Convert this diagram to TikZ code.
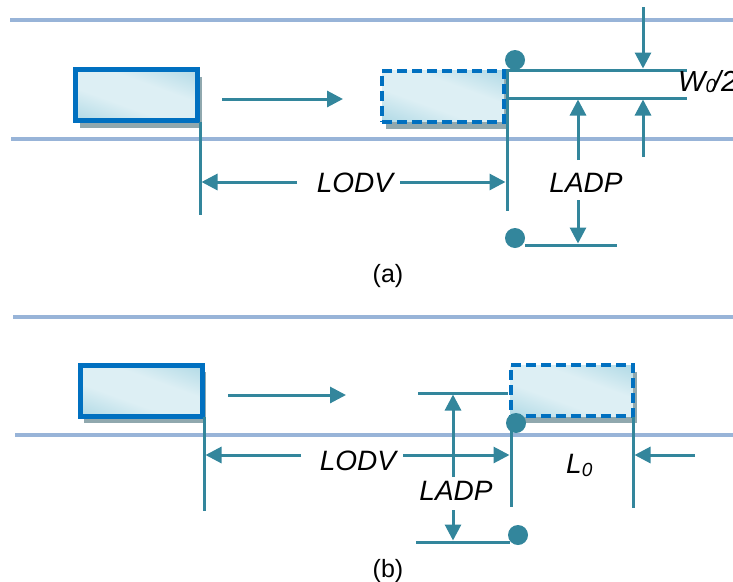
\documentclass[tikz,border=0pt]{standalone}
\usepackage{fontspec}
\setmainfont{Liberation Sans}
\usetikzlibrary{arrows.meta,shadows}
\definecolor{dimteal}{HTML}{33869C}
\definecolor{roadblue}{HTML}{98B4D8}
\definecolor{carblue}{HTML}{0070C0}
\definecolor{cardark}{HTML}{8CC8DA}
\definecolor{carlight}{HTML}{DDEFF4}
\definecolor{shadowgray}{HTML}{90A8AE}
\pgfdeclarehorizontalshading{carshade}{100bp}{color(0bp)=(cardark); color(40bp)=(carlight); color(60bp)=(carlight); color(100bp)=(cardark)}
\newcommand{\lowsub}[2]{\raisebox{#1}{\fontsize{19}{19}\selectfont\itshape #2}}
\tikzset{
  roadline/.style={roadblue, line width=3.5pt},
  dimline/.style={dimteal, line width=3pt},
  dimarrow/.style={dimline, -{Triangle[length=16pt,width=16pt]}},
  car/.style={draw=carblue, line width=5pt, shading=carshade, shading angle=70,
    minimum width=122pt, minimum height=51pt, inner sep=0pt,
    general shadow={shadow xshift=4pt, shadow yshift=-7pt, fill=shadowgray}},
  ghostcar/.style={car, line width=4pt, dash pattern=on 10pt off 5pt},
  dot/.style={circle, fill=dimteal, minimum size=20pt, inner sep=0pt},
  lbl/.style={font=\fontsize{28}{30}\selectfont\itshape, inner sep=0pt, anchor=base},
  sublbl/.style={font=\fontsize{25}{28}\selectfont, inner sep=0pt, anchor=base},
}
\begin{document}
\begin{tikzpicture}[x=1pt,y=-1pt]
\useasboundingbox (0,0) rectangle (733,581);
% ---------------- (a) ----------------
\coordinate (ra1) at (10,20);  \coordinate (ra2) at (733,20);
\coordinate (ra3) at (11,139); \coordinate (ra4) at (733,139);
\draw[roadline] (ra1) -- (ra2);
\draw[roadline] (ra3) -- (ra4);
\node[car] (cara) at (136.5,95) {};
\node[ghostcar] (ghosta) at (443,96) {};
\coordinate (ma1) at (222,99); \coordinate (ma2) at (343,99);
\draw[dimarrow] (ma1) -- (ma2);
\coordinate (va1) at (200,122); \coordinate (va2) at (200,215);
\draw[dimline] (va1) -- (va2);
\coordinate (vb1) at (507,69); \coordinate (vb2) at (507,211);
\draw[dimline] (vb1) -- (vb2);
\node[lbl] (lodva) at (355,192) {LODV};
\coordinate (la1) at (297,182); \coordinate (la2) at (201.5,182);
\coordinate (la3) at (400,182); \coordinate (la4) at (505.5,182);
\draw[dimarrow] (la1) -- (la2);
\draw[dimarrow] (la3) -- (la4);
\node[dot] (dota1) at (515,60) {};
\node[dot] (dota2) at (515,238) {};
\coordinate (ha1) at (507,70); \coordinate (ha2) at (687,70);
\coordinate (ha3) at (507,98); \coordinate (ha4) at (687,98);
\draw[dimline] (ha1) -- (ha2);
\draw[dimline] (ha3) -- (ha4);
\coordinate (wa1) at (643,7);   \coordinate (wa2) at (643,68.5);
\coordinate (wa3) at (643,157); \coordinate (wa4) at (643,99.5);
\draw[dimarrow] (wa1) -- (wa2);
\draw[dimarrow] (wa3) -- (wa4);
\node[font=\fontsize{29}{30}\selectfont\itshape, inner sep=0pt, anchor=base west] (wlbl) at (678,91) {W\lowsub{-1pt}{0}\kern-3pt/2};
\node[lbl] (ladpa) at (586,192) {LADP};
\coordinate (pa1) at (578,160); \coordinate (pa2) at (578,99.5);
\coordinate (pa3) at (578,200); \coordinate (pa4) at (578,243.5);
\draw[dimarrow] (pa1) -- (pa2);
\draw[dimarrow] (pa3) -- (pa4);
\coordinate (ba1) at (525,245); \coordinate (ba2) at (617,245);
\draw[dimline] (ba1) -- (ba2);
\node[sublbl] (capa) at (388,282) {(a)};
% ---------------- (b) ----------------
\coordinate (rb1) at (13,317); \coordinate (rb2) at (733,317);
\coordinate (rb3) at (15,435); \coordinate (rb4) at (733,435);
\draw[roadline] (rb1) -- (rb2);
\draw[roadline] (rb3) -- (rb4);
\node[car] (carb) at (141,390.5) {};
\node[ghostcar] (ghostb) at (571.5,390.5) {};
\coordinate (mb1) at (228,395); \coordinate (mb2) at (346,395);
\draw[dimarrow] (mb1) -- (mb2);
\coordinate (vc1) at (204,417); \coordinate (vc2) at (204,511);
\draw[dimline] (vc1) -- (vc2);
\node[lbl] (lodvb) at (358,470) {LODV};
\coordinate (lb1) at (301,455); \coordinate (lb2) at (205.5,455);
\coordinate (lb3) at (403,455); \coordinate (lb4) at (509.5,455);
\draw[dimarrow] (lb1) -- (lb2);
\draw[dimarrow] (lb3) -- (lb4);
\coordinate (vd1) at (511,423); \coordinate (vd2) at (511,507);
\draw[dimline] (vd1) -- (vd2);
\coordinate (hb1) at (418,393); \coordinate (hb2) at (508,393);
\draw[dimline] (hb1) -- (hb2);
\node[dot] (dotb1) at (516,423) {};
\node[dot] (dotb2) at (518,535) {};
\node[lbl] (ladpb) at (456,500) {LADP};
\coordinate (pb1) at (453,477); \coordinate (pb2) at (453,394.5);
\coordinate (pb3) at (453,510); \coordinate (pb4) at (453,540.5);
\draw[dimarrow] (pb1) -- (pb2);
\draw[dimarrow] (pb3) -- (pb4);
\coordinate (bb1) at (416,542); \coordinate (bb2) at (510,542);
\draw[dimline] (bb1) -- (bb2);
\node[font=\fontsize{28}{30}\selectfont\itshape, inner sep=0pt, anchor=base west] (l0lbl) at (566,473) {L\lowsub{-3pt}{0}};
\coordinate (ve1) at (633,417); \coordinate (ve2) at (633,508);
\draw[dimline] (ve1) -- (ve2);
\coordinate (rr1) at (695,455); \coordinate (rr2) at (634.5,455);
\draw[dimarrow] (rr1) -- (rr2);
\node[sublbl] (capb) at (388,577) {(b)};
\end{tikzpicture}
\end{document}
